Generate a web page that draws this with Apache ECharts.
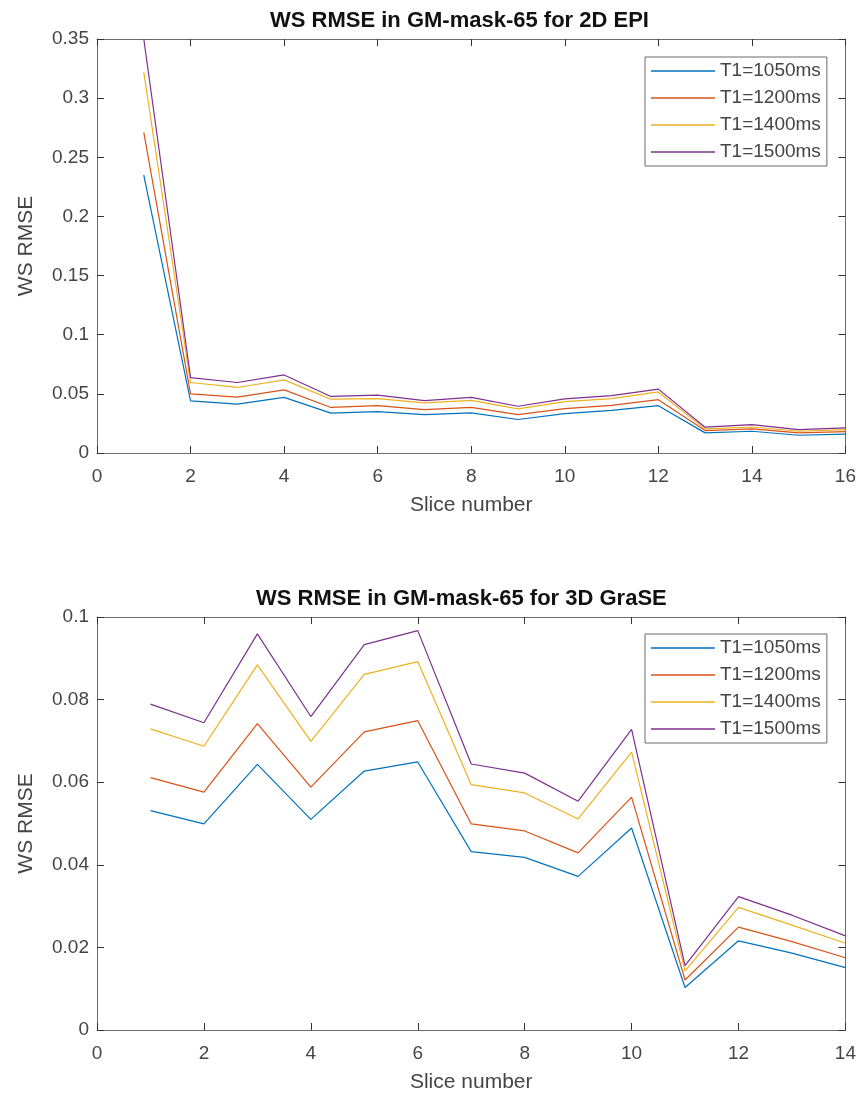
<!DOCTYPE html>
<html>
<head>
<meta charset="utf-8">
<script src="https://cdn.jsdelivr.net/npm/echarts@6/dist/echarts.min.js"></script>
<style>
html,body{margin:0;padding:0;background:#fff;}
#chart{width:859px;height:1099px;}
</style>
</head>
<body>
<div id="chart"></div>
<script>
// ---- data ----
var seriesNames = ['T1=1050ms', 'T1=1200ms', 'T1=1400ms', 'T1=1500ms'];
var colors = ['#0072BD', '#D95319', '#EDB120', '#7E2F8E'];

// Top chart: 2D EPI, slices 1..16
var epiSlices = [1,2,3,4,5,6,7,8,9,10,11,12,13,14,15,16];
var epi1050 = [0.235, 0.044, 0.0413, 0.047, 0.0337, 0.0349, 0.0325, 0.0339, 0.0283, 0.0333, 0.0361, 0.040, 0.017, 0.0184, 0.015, 0.0159];
var epi1200 = [0.271, 0.050, 0.0472, 0.0534, 0.0385, 0.040, 0.0367, 0.0386, 0.0325, 0.0375, 0.0403, 0.0451, 0.019, 0.0204, 0.017, 0.018];
var epi1400 = [0.322, 0.0596, 0.0554, 0.0618, 0.0455, 0.046, 0.0423, 0.0445, 0.0373, 0.0434, 0.046, 0.0516, 0.0204, 0.022, 0.0184, 0.0198];
var epi1500 = [0.35, 0.0638, 0.0596, 0.066, 0.0478, 0.0489, 0.0443, 0.047, 0.0395, 0.0457, 0.0485, 0.054, 0.0218, 0.024, 0.0198, 0.0212];

// Bottom chart: 3D GraSE, slices 1..14
var graseSlices = [1,2,3,4,5,6,7,8,9,10,11,12,13,14];
var grase1050 = [0.0531, 0.0499, 0.0643, 0.051, 0.0627, 0.0649, 0.0432, 0.0418, 0.0372, 0.0489, 0.0103, 0.0216, 0.0186, 0.0151];
var grase1200 = [0.0611, 0.0576, 0.0742, 0.0588, 0.0722, 0.0749, 0.0499, 0.0482, 0.0429, 0.0564, 0.0121, 0.0249, 0.0214, 0.0175];
var grase1400 = [0.0729, 0.0687, 0.0884, 0.0699, 0.0861, 0.0892, 0.0594, 0.0574, 0.0511, 0.0673, 0.0143, 0.0297, 0.0254, 0.0210];
var grase1500 = [0.0789, 0.0744, 0.0959, 0.0759, 0.0933, 0.0967, 0.0644, 0.0622, 0.0554, 0.0728, 0.0156, 0.0323, 0.0278, 0.0228];

var titles = ['WS RMSE in GM-mask-65 for 2D EPI', 'WS RMSE in GM-mask-65 for 3D GraSE'];
var yName = 'WS RMSE';
var xName = 'Slice number';

// ---- chart ----
var FONT = '"Liberation Sans", Arial, Helvetica, sans-serif';
var axisCol = '#6a6a6a';
var textCol = '#454545';

function zip(xs, ys) { return xs.map(function (x, i) { return [x, ys[i]]; }); }

function mainX(grid, max) {
  return {
    type: 'value', gridIndex: grid, min: 0, max: max, interval: 2, position: 'bottom',
    name: xName, nameLocation: 'middle', nameGap: 42,
    nameTextStyle: { fontFamily: FONT, fontSize: 21, color: textCol },
    axisLine: { show: true, onZero: false, lineStyle: { color: axisCol, width: 1 } },
    axisTick: { show: true, inside: true, length: 7, lineStyle: { color: '#333' } },
    axisLabel: { margin: 14, fontFamily: FONT, fontSize: 19, color: textCol },
    splitLine: { show: false }
  };
}
function topX(grid, max) {
  return {
    type: 'value', gridIndex: grid, min: 0, max: max, interval: 2, position: 'top',
    axisLine: { show: true, onZero: false, lineStyle: { color: axisCol, width: 1 } },
    axisTick: { show: true, inside: true, length: 7, lineStyle: { color: '#333' } },
    axisLabel: { show: false }, splitLine: { show: false }
  };
}
function mainY(grid, max, interval) {
  return {
    type: 'value', gridIndex: grid, min: 0, max: max, interval: interval, position: 'left',
    name: yName, nameLocation: 'middle', nameGap: 60,
    nameTextStyle: { fontFamily: FONT, fontSize: 21, color: textCol },
    axisLine: { show: true, onZero: false, lineStyle: { color: axisCol, width: 1 } },
    axisTick: { show: true, inside: true, length: 7, lineStyle: { color: '#333' } },
    axisLabel: { margin: 8, fontFamily: FONT, fontSize: 19, color: textCol },
    splitLine: { show: false }
  };
}
function rightY(grid, max, interval) {
  return {
    type: 'value', gridIndex: grid, min: 0, max: max, interval: interval, position: 'right',
    axisLine: { show: true, onZero: false, lineStyle: { color: axisCol, width: 1 } },
    axisTick: { show: true, inside: true, length: 7, lineStyle: { color: '#333' } },
    axisLabel: { show: false }, splitLine: { show: false }
  };
}
function legend(top) {
  return {
    orient: 'vertical', left: 645, top: top,
    padding: [3, 6, 3, 6],
    backgroundColor: '#fff', borderColor: axisCol, borderWidth: 1, borderRadius: 0,
    itemWidth: 64, itemHeight: 1.4, itemGap: 5, icon: 'rect',
    textStyle: { fontFamily: FONT, fontSize: 19, color: textCol, lineHeight: 22, padding: 0 },
    data: seriesNames.map(function (n) { return { name: n, icon: 'rect' }; })
  };
}
function line(name, idx, xi, yi, data) {
  return {
    name: name, type: 'line', xAxisIndex: xi, yAxisIndex: yi, data: data,
    symbol: 'none', showSymbol: false, clip: true,
    lineStyle: { color: colors[idx], width: 1.2 },
    itemStyle: { color: colors[idx] },
    emphasis: { disabled: true }
  };
}

var chart = echarts.init(document.getElementById('chart'), null, { renderer: 'canvas' });
chart.setOption({
  animation: false,
  backgroundColor: '#fff',
  color: colors,
  title: [
    { text: titles[0], left: 270, top: 10, padding: 0,
      textStyle: { fontFamily: FONT, fontSize: 22, fontWeight: 'bold', color: '#111' } },
    { text: titles[1], left: 256, top: 588, padding: 0,
      textStyle: { fontFamily: FONT, fontSize: 22, fontWeight: 'bold', color: '#111' } }
  ],
  legend: [legend(57), legend(634)],
  grid: [
    { left: 97, right: 13, top: 39, height: 414, containLabel: false },
    { left: 97, right: 13, top: 617, height: 413, containLabel: false }
  ],
  xAxis: [mainX(0, 16), topX(0, 16), mainX(1, 14), topX(1, 14)],
  yAxis: [mainY(0, 0.35, 0.05), rightY(0, 0.35, 0.05), mainY(1, 0.1, 0.02), rightY(1, 0.1, 0.02)],
  series: [
    line(seriesNames[0], 0, 0, 0, zip(epiSlices, epi1050)),
    line(seriesNames[1], 1, 0, 0, zip(epiSlices, epi1200)),
    line(seriesNames[2], 2, 0, 0, zip(epiSlices, epi1400)),
    line(seriesNames[3], 3, 0, 0, zip(epiSlices, epi1500)),
    line(seriesNames[0], 0, 2, 2, zip(graseSlices, grase1050)),
    line(seriesNames[1], 1, 2, 2, zip(graseSlices, grase1200)),
    line(seriesNames[2], 2, 2, 2, zip(graseSlices, grase1400)),
    line(seriesNames[3], 3, 2, 2, zip(graseSlices, grase1500))
  ]
});
</script>
</body>
</html>
